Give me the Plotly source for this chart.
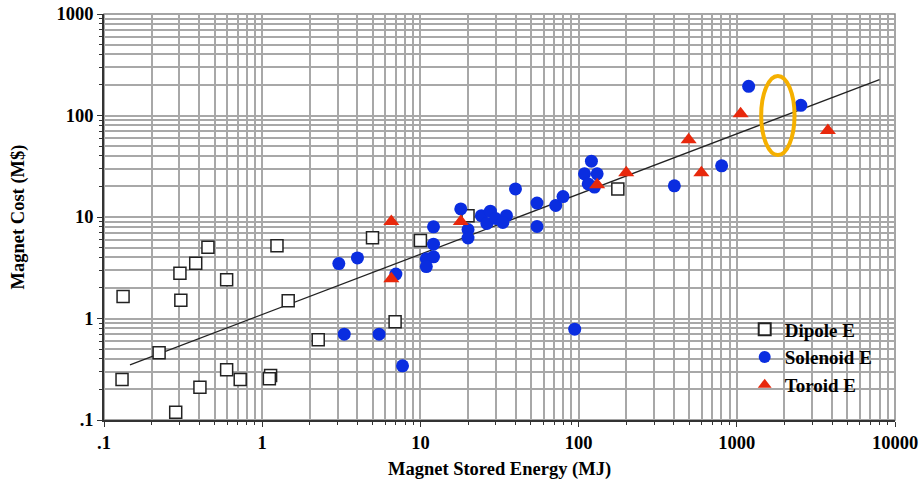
import plotly.graph_objects as go

# ---- data ----
dipole_x = [0.132, 0.130, 0.223, 0.284, 0.302, 0.306, 0.380, 0.454, 0.404, 0.596, 0.596,
            0.726, 1.13, 1.11, 1.24, 1.46, 2.26, 4.98, 6.92, 10.0, 20.0, 177]
dipole_y = [1.65, 0.25, 0.46, 0.119, 2.79, 1.51, 3.51, 5.04, 0.21, 2.41, 0.312,
            0.25, 0.274, 0.255, 5.2, 1.50, 0.617, 6.24, 0.928, 5.87, 10.3, 18.9]

solenoid_x = [3.05, 4.0, 3.30, 5.48, 7.71, 7.0, 12.1, 12.1, 10.9, 12.1, 10.9, 18.0,
              20.0, 20.0, 24.3, 27.7, 26.3, 29.9, 35.0, 33.2, 39.9, 54.6, 54.6, 71.7,
              79.7, 120.5, 109, 131, 115, 126, 94.5, 1188, 2540, 802, 403]
solenoid_y = [3.48, 3.95, 0.70, 0.70, 0.342, 2.74, 8.0, 5.40, 3.87, 4.05, 3.25, 12.0,
              7.53, 6.21, 10.3, 11.4, 8.63, 9.67, 10.3, 8.83, 18.9, 13.7, 8.06, 13.0,
              15.9, 35.5, 26.6, 26.6, 21.2, 19.7, 0.785, 194, 126, 31.9, 20.3]

toroid_x = [6.55, 6.55, 18.0, 131, 200, 496, 597, 1057, 3765]
toroid_y = [9.03, 2.46, 9.03, 20.8, 27.3, 57.6, 27.3, 104, 71.2]

fit_x = [0.146, 7980]
fit_y = [0.350, 226]

highlight_x = [1426, 2317]
highlight_y = [40.8, 245]

x_tickvals = [0.1, 1, 10, 100, 1000, 10000]
x_ticktext = [".1", "1", "10", "100", "1000", "10000"]
y_tickvals = [0.1, 1, 10, 100, 1000]
y_ticktext = [".1", "1", "10", "100", "1000"]

FONT = "Liberation Serif"
GRID = "#a8a8a8"

fig = go.Figure()

fig.add_trace(go.Scatter(x=fit_x, y=fit_y, mode="lines",
                         line=dict(color="#222222", width=1.3),
                         showlegend=False, hoverinfo="skip"))

fig.add_trace(go.Scatter(x=dipole_x, y=dipole_y, mode="markers", name="Dipole E",
                         marker=dict(symbol="square", size=12, color="white",
                                     line=dict(color="#222222", width=1.5))))
fig.add_trace(go.Scatter(x=solenoid_x, y=solenoid_y, mode="markers", name="Solenoid E",
                         marker=dict(symbol="circle", size=13, color="#0a2de0",
                                     line=dict(width=0))))
fig.add_trace(go.Scatter(x=toroid_x, y=toroid_y, mode="markers", name="Toroid E",
                         marker=dict(symbol="triangle-up", size=14, color="#e8280c",
                                     line=dict(width=0))))

fig.add_shape(type="circle", xref="x", yref="y",
              x0=highlight_x[0], x1=highlight_x[1], y0=highlight_y[0], y1=highlight_y[1],
              line=dict(color="#f5b000", width=4))

# grey frame for top and right edges
fig.add_shape(type="rect", xref="paper", yref="paper", x0=0, x1=1, y0=0, y1=1,
              line=dict(color="#888888", width=1.5), layer="below")

axis_common = dict(
    type="log",
    automargin=False,
    showgrid=True, gridcolor=GRID, gridwidth=1.5,
    showline=True, linecolor="#333333", linewidth=1.5,
    ticks="outside", ticklen=5, tickwidth=1, tickcolor="#333333",
    tickmode="array",
    tickfont=dict(family=FONT, size=18.5, color="black", weight="bold"),
    zeroline=False,
    minor=dict(dtick="D1", showgrid=True, gridcolor=GRID, gridwidth=1.5,
               ticks="outside", ticklen=3, tickcolor="#333333"),
)

fig.update_xaxes(**axis_common, range=[-1, 4], tickvals=x_tickvals, ticktext=x_ticktext,
                 title=dict(text="Magnet Stored Energy (MJ)", standoff=11,
                            font=dict(family=FONT, size=18.5, color="black", weight="bold")))
fig.update_yaxes(**axis_common, range=[-1, 3], tickvals=y_tickvals, ticktext=y_ticktext,
                 title=dict(text="Magnet Cost (M$)", standoff=27,
                            font=dict(family=FONT, size=18.5, color="black", weight="bold")))

fig.update_layout(
    width=920, height=480,
    margin=dict(l=104, r=25, t=14, b=60),
    paper_bgcolor="white", plot_bgcolor="white",
    legend=dict(x=0.81, y=0.27, xanchor="left", yanchor="top",
                bgcolor="rgba(0,0,0,0)",
                font=dict(family=FONT, size=19, color="black", weight="bold"),
                itemsizing="constant", tracegroupgap=0),
    font=dict(family=FONT),
)

fig.write_html("out.html")
